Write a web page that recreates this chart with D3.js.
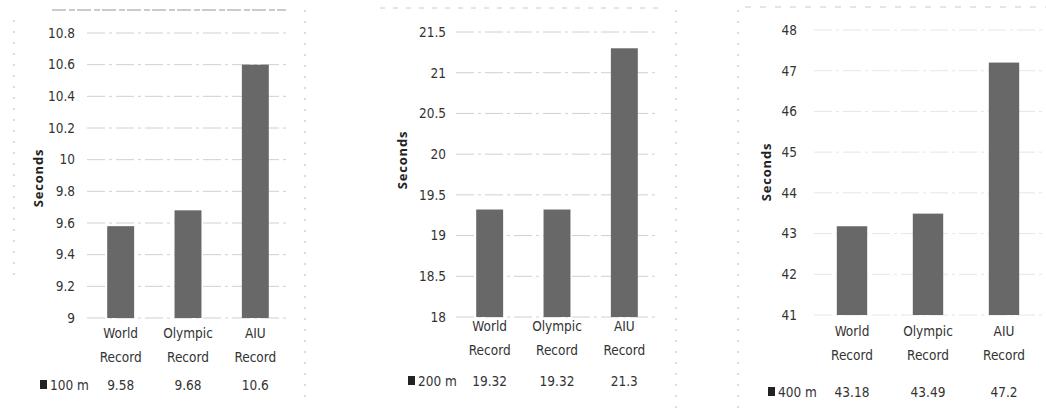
<!DOCTYPE html>
<html>
<head>
<meta charset="utf-8">
<script src="https://cdn.jsdelivr.net/npm/d3@7"></script>
<style>
  body { margin: 0; background: #fff; }
  svg text { font-family: "Liberation Sans Narrow", "DejaVu Sans Condensed", sans-serif; fill: #333; }
</style>
</head>
<body>
<svg id="chart" width="1046" height="413"></svg>
<script>
// data
var categories = ["World Record", "Olympic Record", "AIU Record"];
var events = ["100 m", "200 m", "400 m"];
var times100 = [9.58, 9.68, 10.6];
var times200 = [19.32, 19.32, 21.3];
var times400 = [43.18, 43.49, 47.2];
var labels100 = ["9.58", "9.68", "10.6"];
var labels200 = ["19.32", "19.32", "21.3"];
var labels400 = ["43.18", "43.49", "47.2"];
var ticks100 = [9, 9.2, 9.4, 9.6, 9.8, 10, 10.2, 10.4, 10.6, 10.8];
var ticks200 = [18, 18.5, 19, 19.5, 20, 20.5, 21, 21.5];
var ticks400 = [41, 42, 43, 44, 45, 46, 47, 48];

// panel layout (pixels)
var panels = [
  {values: times100, labels: labels100, ticks: ticks100, event: events[0],
   x0: 87, x1: 289, top: 33, bottom: 318, tickX: 75, titleX: 38, titleY: 178,
   catY: 338, tableY: 390, keyX: 40, grid: "#d0d0d0"},
  {values: times200, labels: labels200, ticks: ticks200, event: events[1],
   x0: 456, x1: 658, top: 32, bottom: 317, tickX: 446, titleX: 402, titleY: 160,
   catY: 331, tableY: 386, keyX: 408, grid: "#d0d0d0"},
  {values: times400, labels: labels400, ticks: ticks400, event: events[2],
   x0: 814, x1: 1042, top: 30, bottom: 315, tickX: 797, titleX: 766, titleY: 172,
   catY: 336, tableY: 397, keyX: 768, grid: "#e6e6e6"}
];

var svg = d3.select("#chart");

// faint scan frame lines
svg.append("line").attr("x1", 52).attr("x2", 286).attr("y1", 10).attr("y2", 10)
  .attr("stroke", "#bbb").attr("stroke-width", 1.5).attr("stroke-dasharray", "14 3 6 2");
svg.append("line").attr("x1", 380).attr("x2", 660).attr("y1", 8).attr("y2", 8)
  .attr("stroke", "#ccc").attr("stroke-width", 1).attr("stroke-dasharray", "5 8");
svg.append("line").attr("x1", 745).attr("x2", 1046).attr("y1", 7).attr("y2", 7)
  .attr("stroke", "#ccc").attr("stroke-width", 1).attr("stroke-dasharray", "6 9");
[[14, 20, 280], [305, 10, 400], [676, 10, 410], [738, 10, 410]].forEach(function(v){
  svg.append("line").attr("x1", v[0]).attr("x2", v[0]).attr("y1", v[1]).attr("y2", v[2])
    .attr("stroke", "#bbb").attr("stroke-width", 1).attr("stroke-dasharray", "2 9");
});

panels.forEach(function(p){
  var g = svg.append("g");

  var x = d3.scaleBand().domain(categories).range([p.x0, p.x1])
    .paddingInner(0.6).paddingOuter(0.3);
  var y = d3.scaleLinear().domain([p.ticks[0], p.ticks[p.ticks.length - 1]])
    .range([p.bottom, p.top]);

  // gridlines
  g.selectAll("line.grid").data(p.ticks).enter().append("line")
    .attr("class", "grid")
    .attr("x1", p.x0).attr("x2", p.x1)
    .attr("y1", function(d){ return y(d); }).attr("y2", function(d){ return y(d); })
    .attr("stroke", p.grid).attr("stroke-width", 1)
    .attr("stroke-dasharray", "18 4 3 4");

  // y axis labels (no axis line in the original)
  var yAxis = d3.axisLeft(y).tickValues(p.ticks).tickSize(0).tickPadding(0)
    .tickFormat(d3.format("~g"));
  var ax = g.append("g").attr("transform", "translate(" + p.tickX + ",0)").call(yAxis);
  ax.select(".domain").remove();
  ax.selectAll("text").attr("font-size", 13.5).style("fill", "#333");

  // axis title
  g.append("text")
    .attr("transform", "translate(" + p.titleX + "," + p.titleY + ") rotate(-90)")
    .attr("text-anchor", "middle").attr("dy", "0.35em")
    .attr("font-size", 13).attr("font-weight", "bold").attr("letter-spacing", 0.8)
    .style("font-family", "'Open Sans', sans-serif").style("fill", "#222")
    .text("Seconds");

  // bars
  g.selectAll("rect.bar").data(p.values).enter().append("rect")
    .attr("class", "bar")
    .attr("x", function(d, i){ return x(categories[i]); })
    .attr("width", x.bandwidth())
    .attr("y", function(d){ return y(d); })
    .attr("height", function(d){ return p.bottom - y(d); })
    .attr("fill", "#686868");

  // category labels, two lines
  categories.forEach(function(c){
    var parts = c.split(" ");
    var t = g.append("text").attr("text-anchor", "middle").attr("font-size", 13.5)
      .style("fill", "#333");
    parts.forEach(function(w, k){
      t.append("tspan").attr("x", x(c) + x.bandwidth() / 2)
        .attr("y", p.catY + k * 24).text(w);
    });
  });

  // data table row
  g.append("rect").attr("x", p.keyX).attr("y", p.tableY - 10)
    .attr("width", 7).attr("height", 9).attr("fill", "#222");
  g.append("text").attr("x", p.keyX + 10).attr("y", p.tableY)
    .attr("font-size", 13.5).style("fill", "#333").text(p.event);
  g.selectAll("text.val").data(p.labels).enter().append("text")
    .attr("class", "val")
    .attr("x", function(d, i){ return x(categories[i]) + x.bandwidth() / 2; })
    .attr("y", p.tableY).attr("text-anchor", "middle")
    .attr("font-size", 13.5).style("fill", "#333")
    .text(function(d){ return d; });
});
</script>
</body>
</html>
